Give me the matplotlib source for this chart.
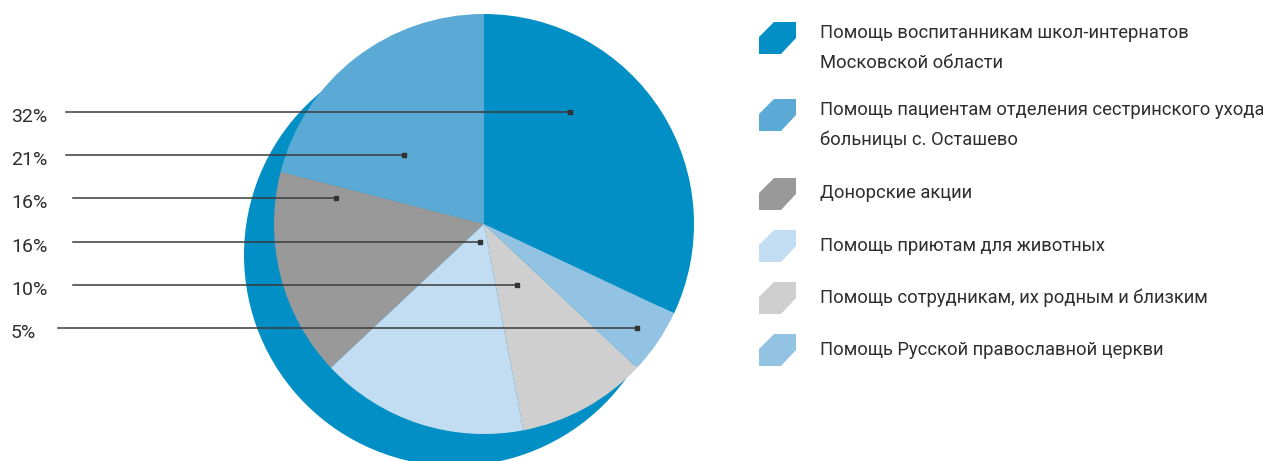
import matplotlib
matplotlib.use("Agg")
import matplotlib.pyplot as plt
from matplotlib.patches import Circle, Polygon

plt.rcParams['font.family'] = ['Roboto', 'DejaVu Sans']

values = [32, 21, 16, 16, 10, 5]
pct_labels = ["32%", "21%", "16%", "16%", "10%", "5%"]
legend_labels = [
    "Помощь воспитанникам школ-интернатов\nМосковской области",
    "Помощь пациентам отделения сестринского ухода\nбольницы с. Осташево",
    "Донорские акции",
    "Помощь приютам для животных",
    "Помощь сотрудникам, их родным и близким",
    "Помощь Русской православной церкви",
]
colors = ["#028fc5", "#5aaad5", "#999999", "#c2ddf1", "#cfcfcf", "#92c3e3"]

W, H = 1263, 461
fig = plt.figure(figsize=(W / 100, H / 100), dpi=100)
ax = fig.add_axes([0, 0, 1, 1])

def Y(y):
    return H - y

cx, cy, r = 484, 224, 210

# тень
ax.add_patch(Circle((455, Y(255)), 211, color=colors[0], lw=0, zorder=0))

start = 90 - 360 * values[0] / sum(values)
ax.pie(values, colors=colors, startangle=start, counterclock=True,
       center=(cx, Y(cy)), radius=r, wedgeprops=dict(linewidth=0))
for w in ax.patches[1:]:
    w.set_zorder(1)

# подписи слева
line_y = [112, 155, 198, 242, 285, 328]
line_x0 = [66, 66, 73, 73, 73, 58]
dot_x = [570, 404, 336, 480, 517, 637]
for i, lab in enumerate(pct_labels):
    ax.text(11, Y(line_y[i] + 10), lab, fontsize=14, color="#2e2e2e",
            ha="left", va="baseline")
    ax.plot([line_x0[i], dot_x[i]], [Y(line_y[i])] * 2, color="#3a3a3a",
            lw=1.1, zorder=3)
    ax.plot(dot_x[i], Y(line_y[i]), marker="s", ms=3.5, color="#333333",
            zorder=4)

# легенда
row_top = [22, 99, 178, 230, 282, 334]
text_base = [38, 115, 198, 251, 303, 355]
for i, lab in enumerate(legend_labels):
    t = row_top[i]
    pts = [(759, t + 15), (774, t), (796, t), (796, t + 16), (781, t + 32), (759, t + 32)]
    ax.add_patch(Polygon([(x, Y(y)) for x, y in pts], closed=True,
                         color=colors[i], lw=0))
    for j, line in enumerate(lab.split("\n")):
        ax.text(820, Y(text_base[i] + 30 * j), line, fontsize=13.2,
                color="#2e2e2e", ha="left", va="baseline")

ax.set_xlim(0, W)
ax.set_ylim(0, H)
ax.set_aspect("equal")
ax.axis("off")

fig.savefig("out.png", dpi=100)
